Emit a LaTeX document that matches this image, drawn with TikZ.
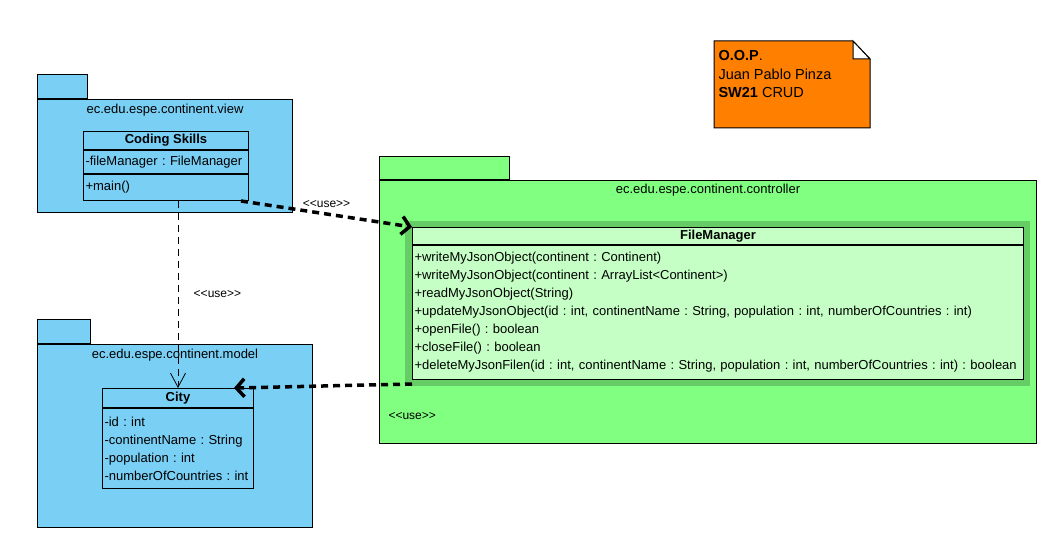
\documentclass[tikz,border=0pt]{standalone}
\usepackage{fontspec}
\setmainfont{Liberation Sans}[Ligatures=TeXOff]
\usetikzlibrary{positioning}
\usetikzlibrary{arrows.meta}
\frenchspacing

\definecolor{viewblue}{RGB}{122,207,245}
\definecolor{ctrlgreen}{RGB}{128,255,128}
\definecolor{fmgreen}{RGB}{198,255,198}
\definecolor{bandgreen}{RGB}{102,204,102}
\definecolor{noteorange}{RGB}{255,128,0}

\tikzset{
    pkg/.style={draw, line width=1pt, inner sep=0pt, anchor=north west},
    pkgtab/.style={draw, line width=1pt, inner sep=0pt, anchor=south west},
    classhead/.style={draw, line width=1pt, inner sep=0pt, anchor=north west, font=\fontsize{13}{18}\selectfont\bfseries},
    classpart/.style={draw, line width=1pt, inner xsep=2pt, inner ysep=0pt, align=left},
    usethick/.style={line width=3.5pt, dash pattern=on 7pt off 5pt, -{Straight Barb[length=8pt,width=18pt]}},
    usethin/.style={line width=0.8pt, dash pattern=on 7pt off 5pt, -{Straight Barb[length=14pt,width=15pt,line width=0.8pt]}},
    uselabel/.style={font=\fontsize{12}{14}\selectfont}
}

\begin{document}
\begin{tikzpicture}[x=1pt,y=-1pt,font=\fontsize{13}{18}\selectfont]
    \useasboundingbox (0,0) rectangle (1051,534);

    % packages
    \node[pkg, fill=viewblue, minimum width=255pt, minimum height=113pt] (viewpkg) at (37,99) {};
    \node[pkgtab, fill=viewblue, minimum width=50pt, minimum height=24pt] (viewtab) at (viewpkg.north west) {};
    \node[below=2pt of viewpkg.north] (viewname) {ec.edu.espe.continent.view};

    \node[pkg, fill=viewblue, minimum width=275pt, minimum height=183pt] (modelpkg) at (37,344) {};
    \node[pkgtab, fill=viewblue, minimum width=53pt, minimum height=24pt] (modeltab) at (modelpkg.north west) {};
    \node[below=2pt of modelpkg.north] (modelname) {ec.edu.espe.continent.model};

    \node[pkg, fill=ctrlgreen, minimum width=657pt, minimum height=263pt] (ctrlpkg) at (379,180) {};
    \node[pkgtab, fill=ctrlgreen, minimum width=130pt, minimum height=23pt] (ctrltab) at (ctrlpkg.north west) {};
    \node[below=1pt of ctrlpkg.north] (ctrlname) {ec.edu.espe.continent.controller};
    \node[uselabel, anchor=west] (ctrluse) at (385,416) {<<use>>};

    % classes
    \node[classhead, fill=viewblue, minimum width=165pt, minimum height=18pt] (skillshead) at (83,131) {Coding Skills};
    \node[classpart, fill=viewblue, text width=161pt, minimum height=23pt, below=0pt of skillshead] (skillsattr) {-fileManager : FileManager};
    \node[classpart, fill=viewblue, text width=161pt, minimum height=26pt, below=0pt of skillsattr] (skillsops) {+main()};

    \fill[bandgreen] (405,221) rectangle (1030,386);
    \node[classhead, fill=fmgreen, minimum width=611pt, minimum height=17pt] (fmhead) at (412,227) {FileManager};
    \node[classpart, fill=fmgreen, text width=607pt, minimum height=134pt, below=0pt of fmhead] (fmops) {+writeMyJsonObject(continent : Continent)\\
        +writeMyJsonObject(continent : ArrayList<Continent>)\\
        +readMyJsonObject(String)\\
        +updateMyJsonObject(id : int, continentName : String, population : int, numberOfCountries : int)\\
        +openFile() : boolean\\
        +closeFile() : boolean\\
        +deleteMyJsonFilen(id : int, continentName : String, population : int, numberOfCountries : int) : boolean};

    \node[classhead, fill=viewblue, minimum width=151pt, minimum height=19pt] (cityhead) at (102,388) {City};
    \node[classpart, fill=viewblue, text width=147pt, minimum height=80pt, below=0pt of cityhead] (cityattr) {-id : int\\
        -continentName : String\\
        -population : int\\
        -numberOfCountries : int};

    % note
    \filldraw[fill=noteorange, line width=1pt] (714,41) -- (853,41) -- (870,59) -- (870,128) -- (714,128) -- cycle;
    \filldraw[fill=white, line width=1pt] (853,41) -- (853,59) -- (870,59) -- cycle;
    \node[anchor=north west, align=left, font=\fontsize{14.5}{18.5}\selectfont] (note) at (715,47) {\textbf{O.O.P}.\\Juan Pablo Pinza\\\textbf{SW21} CRUD};

    % dependencies
    \draw[usethick] ([xshift=-8pt]skillsops.south east) -- (fmhead.north west) node[uselabel, midway, above=1pt] {<<use>>};
    \draw[usethick] ([yshift=-4pt]fmops.south west) -- ([xshift=-20pt]cityhead.north east);
    \draw[usethin] (skillsops.south -| cityhead.north) -- (cityhead.north) node[uselabel, midway, right=12pt] {<<use>>};
\end{tikzpicture}
\end{document}
